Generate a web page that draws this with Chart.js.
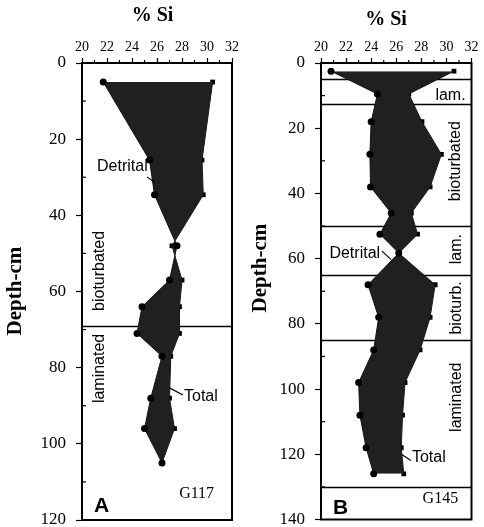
<!DOCTYPE html>
<html><head><meta charset="utf-8">
<script src="https://cdn.jsdelivr.net/npm/chart.js@4.4.0/dist/chart.umd.min.js"></script>
<style>
html,body{margin:0;padding:0;background:#fff;}
body{width:484px;height:527px;position:relative;overflow:hidden;}
#a{position:absolute;left:0;top:0;}
#b{position:absolute;left:236px;top:0;}
</style></head><body>
<canvas id="a" width="242" height="527"></canvas>
<canvas id="b" width="248" height="527"></canvas>
<script>
// ---- data ----
const siTicks = [20, 22, 24, 26, 28, 30, 32];
const depthTicksA = [0, 20, 40, 60, 80, 100, 120];
const depthTicksB = [0, 20, 40, 60, 80, 100, 120, 140];

const depthsA   = [5, 25.5, 34.6, 48, 57, 64, 71, 77, 88, 96, 105];
const detritalA = [21.7, 25.4, 25.8, 27.6, 27.0, 24.8, 24.4, 26.4, 25.5, 25.0, 26.4];
const totalA    = [30.45, 29.6, 29.7, 27.2, 28.0, 27.8, 27.8, 27.1, 27.0, 27.4, 26.4];

const depthsB   = [2.5, 9.5, 18, 28, 38, 46, 52.5, 58.3, 68, 78, 88, 98, 108, 118, 126];
const detritalB = [20.8, 24.5, 24.0, 23.9, 23.95, 25.6, 24.7, 26.2, 23.75, 24.6, 24.2, 23.0, 23.1, 23.6, 24.2];
const totalB    = [30.6, 27.0, 28.05, 29.6, 28.7, 27.2, 27.7, 26.2, 29.1, 28.7, 27.9, 26.7, 26.5, 26.4, 26.6];

const faciesBoundsA = [69];
const faciesBoundsB = [5, 12.5, 50, 65, 85, 130];

// ---- styling / layout ----
const SERIF = '"Liberation Serif", "Times New Roman", serif';
const SANS = '"Liberation Sans", Arial, sans-serif';
const fTitle = 'bold 20px ' + SERIF;
const fYTitle = 'bold 21px ' + SERIF;
const fLab = '16px ' + SANS;
const fCore = '16px ' + SERIF;
const fLetter = 'bold 21px ' + SANS;

const deco = {
  id: 'deco',
  beforeDatasetsDraw(chart, args, opts) {
    const {ctx, chartArea: a, scales: {y}} = chart;
    ctx.save();
    ctx.strokeStyle = '#000';
    ctx.lineWidth = 1.3;
    opts.bounds.forEach(d => {
      const py = Math.round(y.getPixelForValue(d)) + 0.5;
      ctx.beginPath(); ctx.moveTo(a.left, py); ctx.lineTo(a.right, py); ctx.stroke();
    });
    ctx.restore();
  },
  afterDraw(chart, args, opts) {
    const {ctx, chartArea: a, scales: {x, y}} = chart;
    ctx.save();
    ctx.strokeStyle = '#000';
    // minor ticks
    ctx.lineWidth = 1.2;
    for (let v = x.min + 1; v < x.max; v += 2) {
      const px = x.getPixelForValue(v);
      ctx.beginPath(); ctx.moveTo(px, a.top); ctx.lineTo(px, a.top - 3); ctx.stroke();
    }
    for (let d = 10; d < y.max; d += 20) {
      const py = y.getPixelForValue(d);
      ctx.beginPath(); ctx.moveTo(a.left, py); ctx.lineTo(a.left + 4, py); ctx.stroke();
    }
    // frame
    ctx.lineWidth = 2;
    ctx.strokeRect(a.left, a.top, a.right - a.left, a.bottom - a.top);
    // leader lines
    ctx.lineWidth = 1.2;
    opts.leaders.forEach(l => {
      ctx.beginPath();
      ctx.moveTo(x.getPixelForValue(l[0]), y.getPixelForValue(l[1]));
      ctx.lineTo(x.getPixelForValue(l[2]), y.getPixelForValue(l[3]));
      ctx.stroke();
    });
    // texts
    opts.texts.forEach(t => {
      ctx.save();
      ctx.translate(x.getPixelForValue(t.x), y.getPixelForValue(t.y));
      if (t.rot) ctx.rotate(-Math.PI / 2);
      ctx.font = t.font;
      ctx.fillStyle = '#000';
      ctx.textAlign = t.align || 'center';
      ctx.textBaseline = 'middle';
      ctx.fillText(t.text, 0, 0);
      ctx.restore();
    });
    ctx.restore();
  }
};

function makePanel(id, depths, detrital, total, depthTicks, yMax, axisW, pad, bounds, texts, leaders) {
  const detData = depths.map((d, i) => ({x: detrital[i], y: d}));
  const totData = depths.map((d, i) => ({x: total[i], y: d}));
  return new Chart(document.getElementById(id), {
    type: 'line',
    data: {
      datasets: [
        {label: 'Detrital', data: detData, fill: '+1', backgroundColor: '#202020',
         borderColor: '#111', borderWidth: 1, tension: 0,
         pointStyle: 'circle', pointRadius: 3.5, pointBackgroundColor: '#000', pointBorderColor: '#000', pointBorderWidth: 0},
        {label: 'Total', data: totData, fill: false, backgroundColor: '#202020',
         borderColor: '#111', borderWidth: 1, tension: 0,
         pointStyle: 'rect', pointRadius: 3.4, pointBackgroundColor: '#000', pointBorderColor: '#000', pointBorderWidth: 0}
      ]
    },
    options: {
      responsive: false, animation: false, events: [],
      indexAxis: 'y',
      layout: {padding: pad},
      plugins: {
        legend: {display: false}, tooltip: {enabled: false},
        deco: {bounds: bounds, texts: texts, leaders: leaders}
      },
      scales: {
        x: {
          type: 'linear', position: 'top', min: 20, max: 32,
          afterBuildTicks: s => { s.ticks = siTicks.map(v => ({value: v})); },
          ticks: {font: {family: SERIF, size: 14}, color: '#000', padding: 2, maxRotation: 0, autoSkip: false},
          grid: {drawOnChartArea: false, drawTicks: true, tickLength: 5, tickColor: '#000', tickWidth: 1.2},
          border: {display: true, color: '#000', width: 2},
          title: {display: false, text: '% Si'},
          afterFit: s => { s.height = 63; s.paddingLeft = 0; s.paddingRight = 0; }
        },
        y: {
          type: 'linear', position: 'left', reverse: true, min: 0, max: yMax,
          afterBuildTicks: s => { s.ticks = depthTicks.map(v => ({value: v})); },
          ticks: {font: {family: SERIF, size: 17}, color: '#000', padding: 10, autoSkip: false},
          grid: {drawOnChartArea: false, drawTicks: true, tickLength: 6, tickColor: '#000', tickWidth: 1.2},
          border: {display: true, color: '#000', width: 2},
          title: {display: false, text: 'Depth-cm'},
          afterFit: s => { s.width = axisW; s.paddingTop = 0; s.paddingBottom = 0; }
        }
      }
    },
    plugins: [deco]
  });
}

makePanel('a', depthsA, detritalA, totalA, depthTicksA, 120, 82,
  {left: 0, right: 10, top: 0, bottom: 7}, faciesBoundsA,
  [
    {text: '% Si', x: 25.64, y: -12.3, font: fTitle},
    {text: 'Depth-cm', x: 14.72, y: 59.9, font: fYTitle, rot: true},
    {text: 'Detrital', x: 21.2, y: 27.3, font: fLab, align: 'left'},
    {text: 'Total', x: 28.16, y: 87.7, font: fLab, align: 'left'},
    {text: 'bioturbated', x: 21.44, y: 54.6, font: fLab, rot: true},
    {text: 'laminated', x: 21.44, y: 80.2, font: fLab, rot: true},
    {text: 'A', x: 21.57, y: 116.5, font: fLetter},
    {text: 'G117', x: 29.17, y: 113, font: fCore}
  ],
  [[25.2, 29.9, 25.8, 31.3], [27.0, 85.3, 28.08, 87.2]]
);

makePanel('b', depthsB, detritalB, totalB, depthTicksB, 140, 85,
  {left: 0, right: 12.5, top: 0, bottom: 7.5}, faciesBoundsB,
  [
    {text: '% Si', x: 25.18, y: -13.3, font: fTitle},
    {text: 'Depth-cm', x: 15.22, y: 62.9, font: fYTitle, rot: true},
    {text: 'Detrital', x: 20.67, y: 58.4, font: fLab, align: 'left'},
    {text: 'Total', x: 27.25, y: 121.1, font: fLab, align: 'left'},
    {text: 'lam.', x: 31.53, y: 9.9, font: fLab, align: 'right'},
    {text: 'bioturbated', x: 30.73, y: 30.1, font: fLab, rot: true},
    {text: 'lam.', x: 30.8, y: 57.1, font: fLab, rot: true},
    {text: 'bioturb.', x: 30.85, y: 75.1, font: fLab, rot: true},
    {text: 'laminated', x: 30.85, y: 102.5, font: fLab, rot: true},
    {text: 'B', x: 21.56, y: 136.6, font: fLetter},
    {text: 'G145', x: 29.52, y: 133.6, font: fCore}
  ],
  [[24.86, 57.7, 25.6, 60.3], [26.44, 120.1, 27.17, 121.9]]
);
</script>
</body></html>
